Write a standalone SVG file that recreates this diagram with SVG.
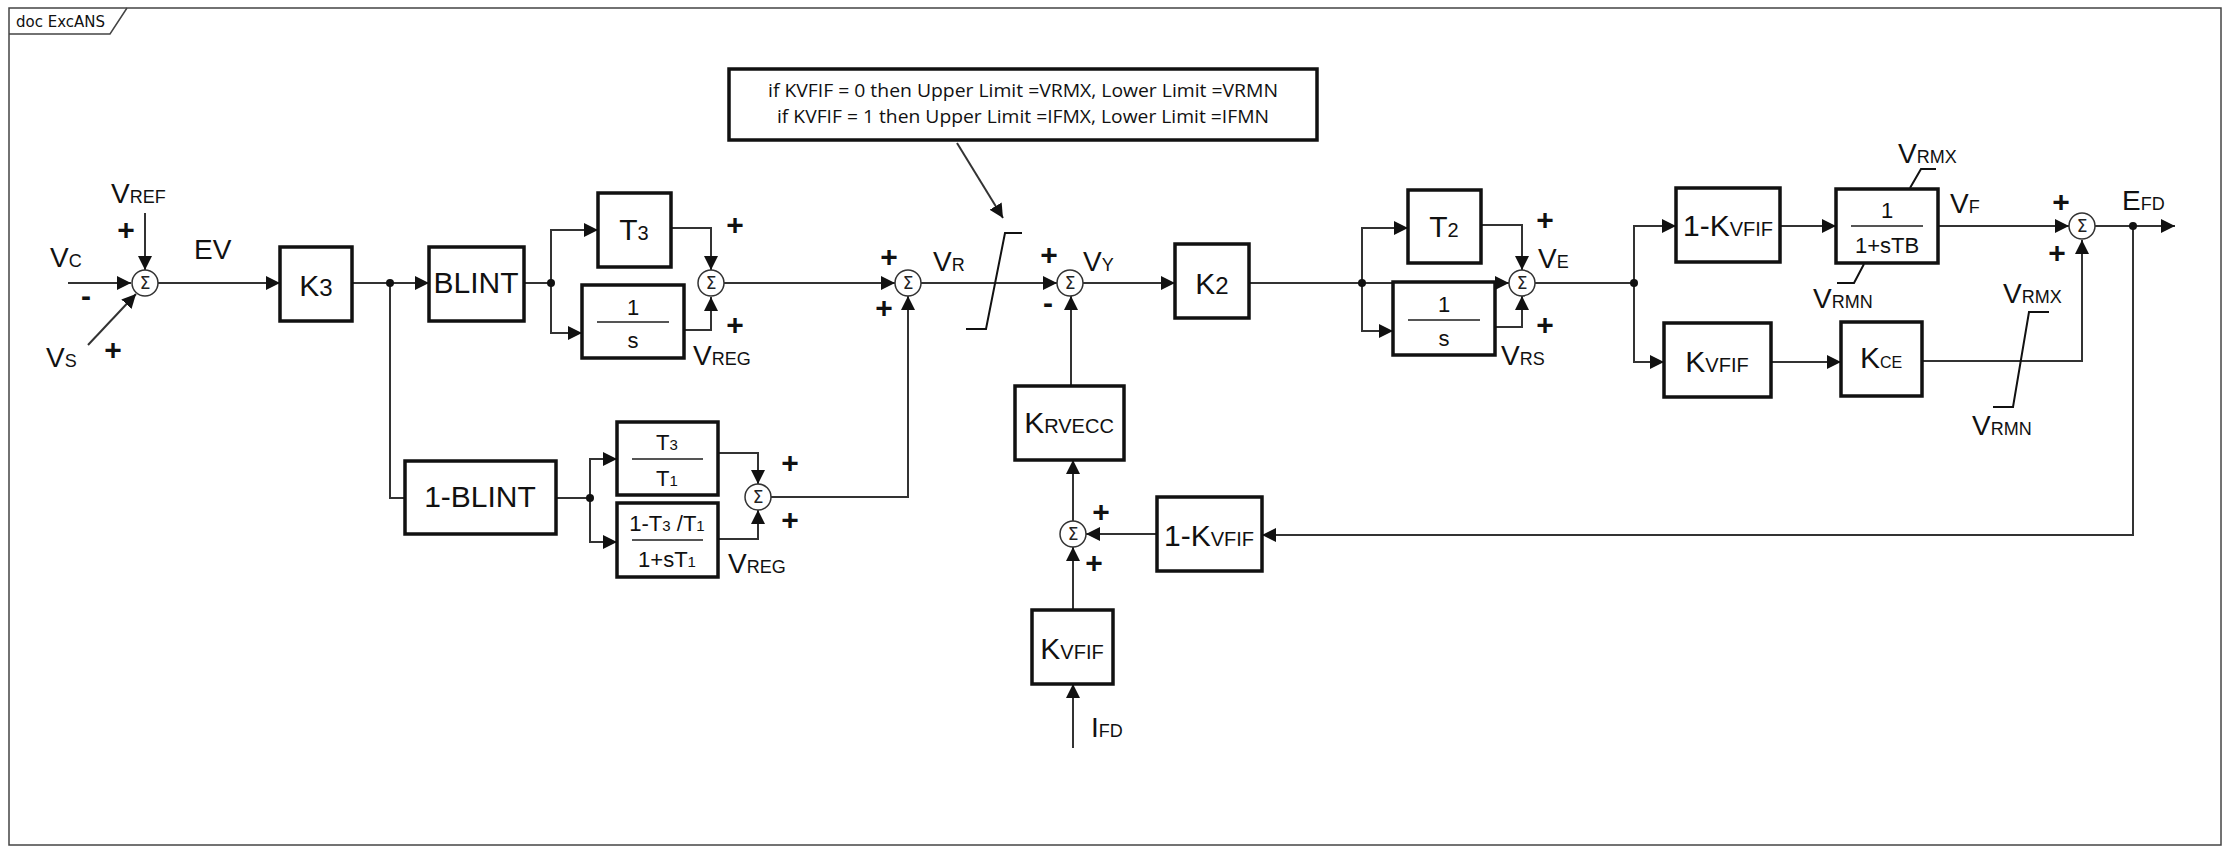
<svg xmlns="http://www.w3.org/2000/svg" width="2229" height="853" viewBox="0 0 2229 853">
<style>
.box{fill:#fff;stroke:#111;stroke-width:3.5}
.ln{fill:none;stroke:#333;stroke-width:2}
.ar{fill:none;stroke:#333;stroke-width:2;marker-end:url(#ah)}
.sum{fill:#fff;stroke:#333;stroke-width:1.5}
.t{font-family:"Liberation Sans",Arial,sans-serif;fill:#111}
.lb{font-size:28px}
.sb{font-size:18px}
.bx{font-size:30px;text-anchor:middle}
.fr{font-size:22px;text-anchor:middle}
.pl{font-family:"Liberation Sans",Arial,sans-serif;font-size:30px;font-weight:bold;fill:#111;text-anchor:middle}
.sg{font-family:"DejaVu Sans",sans-serif;font-size:17px;text-anchor:middle;fill:#222}
.note{font-family:"Open Sans","Liberation Sans",sans-serif;font-size:18px;text-anchor:middle;fill:#111}
</style>
<defs>
<marker id="ah" viewBox="0 0 10 10" refX="10" refY="5" markerWidth="14" markerHeight="14" markerUnits="userSpaceOnUse" orient="auto"><path d="M0,0 L10,5 L0,10 z" fill="#111"/></marker>
<g id="sigma"><circle r="13" class="sum"/><text y="6" class="sg">Σ</text></g>
</defs>
<rect width="2229" height="853" fill="#fff"/>
<g id="frame">
<rect x="9" y="8" width="2212" height="837" fill="none" stroke="#444" stroke-width="1.5"/>
<path d="M9,34 L110,34 L127,8" fill="none" stroke="#444" stroke-width="1.5"/>
<text x="16" y="27" font-family="DejaVu Sans,sans-serif" font-size="15" fill="#111">doc ExcANS</text>
</g>
<g id="connectors">
<path class="ar" d="M68,283 L131,283"/>
<path class="ar" d="M145,213 L145,270"/>
<path class="ar" d="M88,345 L136,294"/>
<path class="ar" d="M158,283 L280,283"/>
<path class="ar" d="M352,283 L429,283"/>
<path class="ln" d="M390,283 L390,498 L405,498"/>
<path class="ar" d="M524,283 L551,283 L551,230 L598,230"/>
<path class="ar" d="M551,283 L551,333 L582,333"/>
<path class="ar" d="M671,228 L711,228 L711,270"/>
<path class="ar" d="M684,330 L711,330 L711,297"/>
<path class="ar" d="M724,283 L895,283"/>
<path class="ar" d="M921,283 L1057,283"/>
<path class="ar" d="M556,498 L590,498 L590,459 L617,459"/>
<path class="ar" d="M590,498 L590,542 L617,542"/>
<path class="ar" d="M718,453 L758,453 L758,484"/>
<path class="ar" d="M718,539 L758,539 L758,510"/>
<path class="ar" d="M771,497 L908,497 L908,296"/>
<path class="ar" d="M1083,283 L1175,283"/>
<path class="ar" d="M1071,386 L1071,296"/>
<path class="ar" d="M1073,521 L1073,460"/>
<path class="ar" d="M1157,534 L1086,534"/>
<path class="ar" d="M1073,610 L1073,547"/>
<path class="ar" d="M1073,748 L1073,684"/>
<path class="ar" d="M2133,226 L2133,535 L1262,535"/>
<path class="ar" d="M1249,283 L1509,283"/>
<path class="ar" d="M1362,283 L1362,228 L1408,228"/>
<path class="ar" d="M1362,283 L1362,331 L1393,331"/>
<path class="ar" d="M1481,225 L1522,225 L1522,270"/>
<path class="ar" d="M1495,327 L1522,327 L1522,296"/>
<path class="ln" d="M1535,283 L1634,283"/>
<path class="ar" d="M1634,283 L1634,226 L1676,226"/>
<path class="ar" d="M1634,283 L1634,362 L1664,362"/>
<path class="ar" d="M1780,226 L1836,226"/>
<path class="ar" d="M1771,362 L1841,362"/>
<path class="ar" d="M1938,226 L2069,226"/>
<path class="ar" d="M1922,361 L2082,361 L2082,240"/>
<path class="ar" d="M2095,226 L2175,226"/>
<path class="ar" d="M957,143 L1003,218"/>
<circle cx="390" cy="283" r="4" fill="#111"/>
<circle cx="551" cy="283" r="4" fill="#111"/>
<circle cx="590" cy="498" r="4" fill="#111"/>
<circle cx="1362" cy="283" r="4" fill="#111"/>
<circle cx="1634" cy="283" r="4" fill="#111"/>
<circle cx="2133" cy="226" r="4" fill="#111"/>
</g>
<g id="limiters" fill="none" stroke="#111" stroke-width="2">
<path d="M966,329 L986,329 L1005,233 L1022,233"/>
<path d="M1910,188 L1921,169 L1936,169"/>
<path d="M1864,264 L1854,283 L1837,283"/>
<path d="M2049,312 L2029,312 L2013,407 L1993,407"/>
</g>
<g id="sums">
<use href="#sigma" x="145" y="283"/>
<use href="#sigma" x="711" y="283"/>
<use href="#sigma" x="908" y="283"/>
<use href="#sigma" x="1070" y="283"/>
<use href="#sigma" x="758" y="497"/>
<use href="#sigma" x="1073" y="534"/>
<use href="#sigma" x="1522" y="283"/>
<use href="#sigma" x="2082" y="226"/>
</g>
<g id="note"><rect x="729" y="69" width="588" height="71" class="box"/>
<text x="1023" y="97" class="note" textLength="510" lengthAdjust="spacingAndGlyphs">if KVFIF = 0 then Upper Limit =VRMX, Lower Limit =VRMN</text>
<text x="1023" y="123" class="note" textLength="492" lengthAdjust="spacingAndGlyphs">if KVFIF = 1 then Upper Limit =IFMX, Lower Limit =IFMN</text></g>
<g id="K3"><rect x="280" y="247" width="72" height="74" class="box"/><text x="316" y="296" class="t bx" font-size="34">K<tspan font-size="24">3</tspan></text></g>
<g id="BLINT"><rect x="429" y="247" width="95" height="74" class="box"/><text x="476" y="293" class="t bx" font-size="25">BLINT</text></g>
<g id="T3"><rect x="598" y="193" width="73" height="74" class="box"/><text x="634" y="240" class="t bx" font-size="28">T<tspan font-size="20">3</tspan></text></g>
<g id="Int1"><rect x="582" y="285" width="102" height="73" class="box"/><text x="633" y="315" class="t fr">1</text><line x1="597" y1="322" x2="669" y2="322" stroke="#555" stroke-width="2"/><text x="633" y="348" class="t fr">s</text></g>
<g id="BLINT1"><rect x="405" y="461" width="151" height="73" class="box"/><text x="480" y="507" class="t bx" font-size="25">1-BLINT</text></g>
<g id="T3T1"><rect x="617" y="422" width="101" height="73" class="box"/><text x="667" y="450" class="t fr">T<tspan font-size="15">3</tspan></text><line x1="632" y1="459" x2="703" y2="459" stroke="#555" stroke-width="2"/><text x="667" y="486" class="t fr">T<tspan font-size="15">1</tspan></text></g>
<g id="Lead"><rect x="617" y="503" width="101" height="74" class="box"/><text x="667" y="531" class="t fr">1-T<tspan font-size="15">3</tspan> /T<tspan font-size="15">1</tspan></text><line x1="632" y1="540" x2="703" y2="540" stroke="#555" stroke-width="2"/><text x="667" y="567" class="t fr">1+sT<tspan font-size="15">1</tspan></text></g>
<g id="K2"><rect x="1175" y="244" width="74" height="74" class="box"/><text x="1212" y="294" class="t bx" font-size="34">K<tspan font-size="24">2</tspan></text></g>
<g id="KRVECC"><rect x="1015" y="386" width="109" height="74" class="box"/><text x="1069" y="433" class="t bx" font-size="32">K<tspan font-size="20">RVECC</tspan></text></g>
<g id="OneMinusKVFIF1"><rect x="1157" y="497" width="105" height="74" class="box"/><text x="1209" y="546" class="t bx" font-size="30">1-K<tspan font-size="20">VFIF</tspan></text></g>
<g id="KVFIF1"><rect x="1032" y="610" width="81" height="74" class="box"/><text x="1072" y="659" class="t bx" font-size="30">K<tspan font-size="20">VFIF</tspan></text></g>
<g id="T2"><rect x="1408" y="190" width="73" height="73" class="box"/><text x="1444" y="237" class="t bx" font-size="28">T<tspan font-size="20">2</tspan></text></g>
<g id="Int2"><rect x="1393" y="282" width="102" height="73" class="box"/><text x="1444" y="312" class="t fr">1</text><line x1="1408" y1="320" x2="1480" y2="320" stroke="#555" stroke-width="2"/><text x="1444" y="346" class="t fr">s</text></g>
<g id="OneMinusKVFIF2"><rect x="1676" y="188" width="104" height="74" class="box"/><text x="1728" y="236" class="t bx" font-size="30">1-K<tspan font-size="20">VFIF</tspan></text></g>
<g id="TB"><rect x="1836" y="189" width="102" height="74" class="box"/><text x="1887" y="218" class="t fr">1</text><line x1="1851" y1="226" x2="1923" y2="226" stroke="#555" stroke-width="2"/><text x="1887" y="253" class="t fr">1+sTB</text></g>
<g id="KVFIF2"><rect x="1664" y="323" width="107" height="74" class="box"/><text x="1717" y="372" class="t bx" font-size="30">K<tspan font-size="20">VFIF</tspan></text></g>
<g id="KCE"><rect x="1841" y="322" width="81" height="74" class="box"/><text x="1881" y="368" class="t bx" font-size="22">K<tspan font-size="16">CE</tspan></text></g>
<g id="labels" class="t">
<text x="50" y="267" class="lb">V<tspan class="sb">C</tspan></text>
<text x="111" y="203" class="lb">V<tspan class="sb">REF</tspan></text>
<text x="46" y="367" class="lb">V<tspan class="sb">S</tspan></text>
<text x="194" y="259" class="lb">EV</text>
<text x="693" y="365" class="lb">V<tspan class="sb">REG</tspan></text>
<text x="728" y="573" class="lb">V<tspan class="sb">REG</tspan></text>
<text x="933" y="271" class="lb">V<tspan class="sb">R</tspan></text>
<text x="1083" y="271" class="lb">V<tspan class="sb">Y</tspan></text>
<text x="1091" y="737" class="lb">I<tspan class="sb">FD</tspan></text>
<text x="1538" y="268" class="lb">V<tspan class="sb">E</tspan></text>
<text x="1501" y="365" class="lb">V<tspan class="sb">RS</tspan></text>
<text x="1950" y="213" class="lb">V<tspan class="sb">F</tspan></text>
<text x="2122" y="210" class="lb">E<tspan class="sb">FD</tspan></text>
<text x="1898" y="163" class="lb">V<tspan class="sb">RMX</tspan></text>
<text x="1813" y="308" class="lb">V<tspan class="sb">RMN</tspan></text>
<text x="2003" y="303" class="lb">V<tspan class="sb">RMX</tspan></text>
<text x="1972" y="435" class="lb">V<tspan class="sb">RMN</tspan></text>
</g>
<g id="signs">
<text x="126" y="240" class="pl">+</text>
<text x="86" y="306" class="pl">-</text>
<text x="113" y="360" class="pl">+</text>
<text x="735" y="235" class="pl">+</text>
<text x="735" y="335" class="pl">+</text>
<text x="889" y="267" class="pl">+</text>
<text x="884" y="318" class="pl">+</text>
<text x="1049" y="265" class="pl">+</text>
<text x="1048" y="313" class="pl">-</text>
<text x="790" y="473" class="pl">+</text>
<text x="790" y="530" class="pl">+</text>
<text x="1101" y="522" class="pl">+</text>
<text x="1094" y="573" class="pl">+</text>
<text x="1545" y="230" class="pl">+</text>
<text x="1545" y="335" class="pl">+</text>
<text x="2061" y="212" class="pl">+</text>
<text x="2057" y="263" class="pl">+</text>
</g>
</svg>
